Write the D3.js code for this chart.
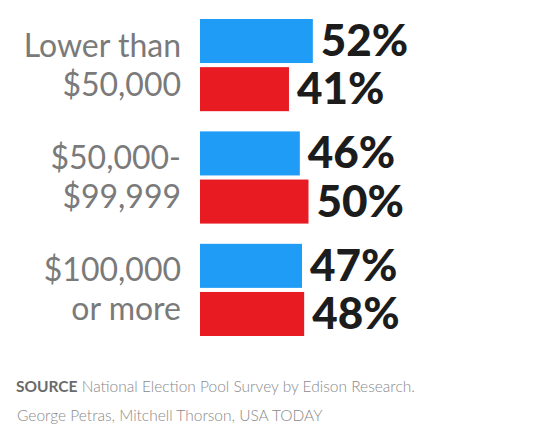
<!DOCTYPE html>
<html>
<head>
<meta charset="utf-8">
<script src="https://cdn.jsdelivr.net/npm/d3@7"></script>
<style>
  html, body { margin: 0; padding: 0; background: #ffffff; }
  svg { display: block; }
</style>
</head>
<body>
<svg id="chart" width="540" height="444"></svg>
<script>
// ---- data ----
const categories = ["Lower than $50,000", "$50,000-$99,999", "$100,000 or more"];
const categoryLines = [["Lower than", "$50,000"], ["$50,000-", "$99,999"], ["$100,000", "or more"]];
const series = ["Democrat", "Republican"];
const blueValues = [52, 46, 47];
const redValues = [41, 50, 48];
const sourceLabel = "SOURCE";
const sourceText = "National Election Pool Survey by Edison Research.";
const creditText = "George Petras, Mitchell Thorson, USA TODAY";

// ---- layout ----
const svg = d3.select("#chart");
const colors = d3.scaleOrdinal().domain(series).range(["#1e9cf6", "#e81b23"]);

const x = d3.scaleLinear().domain([0, 100]).range([200, 417]);
const y = d3.scaleBand().domain(categories).range([19, 336]).paddingInner(0.18).paddingOuter(0);
const ySub = d3.scaleBand().domain(series).range([0, y.bandwidth()]).paddingInner(0.085);

const rows = categories.map((c, i) => ({
  cat: c, lines: categoryLines[i],
  vals: [{s: series[0], v: blueValues[i]}, {s: series[1], v: redValues[i]}]
}));

const g = svg.selectAll("g.group").data(rows).join("g")
  .attr("class", "group")
  .attr("transform", d => `translate(0,${y(d.cat)})`);

g.selectAll("rect").data(d => d.vals).join("rect")
  .attr("x", x(0))
  .attr("y", d => ySub(d.s))
  .attr("width", d => x(d.v) - x(0))
  .attr("height", ySub.bandwidth())
  .attr("fill", d => colors(d.s));

g.selectAll("text.val").data(d => d.vals).join("text")
  .attr("class", "val")
  .attr("x", d => x(d.v) + 8)
  .attr("y", d => ySub(d.s) + ySub.bandwidth() / 2 + 15)
  .attr("font-family", "Lato, sans-serif")
  .attr("font-weight", 900)
  .attr("font-size", 44)
  .attr("fill", "#1c1c1c")
  .text(d => d.v + "%");

g.each(function(d) {
  const c = y.bandwidth() / 2;
  d3.select(this).selectAll("text.cat").data(d.lines).join("text")
    .attr("class", "cat")
    .attr("x", 181)
    .attr("y", (t, i) => c - 8.5 + i * 39)
    .attr("text-anchor", "end")
    .attr("font-family", "Lato, sans-serif")
    .attr("font-weight", 400)
    .attr("font-size", 32)
    .attr("fill", "#7a7a7a")
    .text(t => t);
});

const foot = svg.append("text")
  .attr("x", 16).attr("y", 392)
  .attr("font-family", "Lato, sans-serif")
  .attr("font-size", 15.5)
  .attr("fill", "#8a8a8a");
foot.append("tspan").attr("font-weight", 700).attr("fill", "#6a6a6a").text(sourceLabel);
foot.append("tspan").attr("font-weight", 300).text(" " + sourceText);

svg.append("text")
  .attr("x", 17).attr("y", 421)
  .attr("font-family", "Lato, sans-serif")
  .attr("font-weight", 300)
  .attr("font-size", 15.5)
  .attr("fill", "#8a8a8a")
  .text(creditText);
</script>
</body>
</html>
